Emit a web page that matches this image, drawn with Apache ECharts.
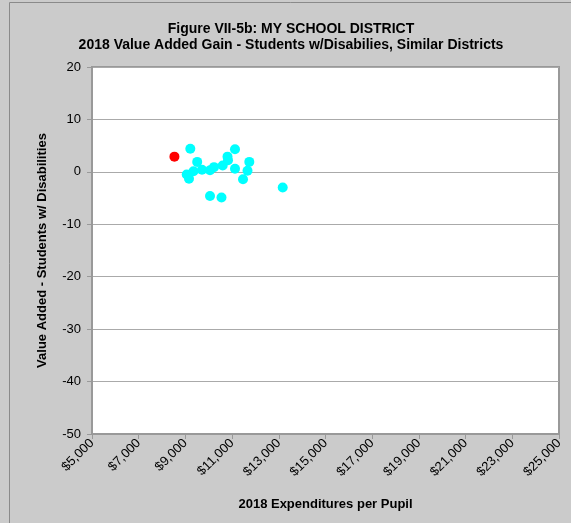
<!DOCTYPE html>
<html>
<head>
<meta charset="utf-8">
<script src="https://cdn.jsdelivr.net/npm/echarts@6/dist/echarts.min.js"></script>
<style>html,body{margin:0;padding:0;background:#cbcbcb;}#c{width:571px;height:523px;}</style>
</head>
<body>
<div id="c"></div>
<script>
const titleLines = ["Figure VII-5b: MY SCHOOL DISTRICT", "2018 Value Added Gain - Students w/Disabilies, Similar Districts"];
const xAxisName = "2018 Expenditures per Pupil";
const yAxisName = "Value Added - Students w/ Disabilities";
const myDistrictX = [8530];
const myDistrictY = [2.9];
const similarX = [9210, 9505, 9056, 9154, 9347, 9711, 10054, 10225, 10597, 10825, 10803, 11124, 11124, 11737, 11660, 11467, 10054, 10546, 13167];
const similarY = [4.4, 1.9, -0.5, -1.3, 0.1, 0.4, 0.3, 0.9, 1.2, 2.2, 2.9, 4.3, 0.6, 1.9, 0.2, -1.4, -4.6, -4.9, -3.0];
const xMin = 5000, xMax = 25000, xStep = 2000;
const yMin = -50, yMax = 20, yStep = 10;

const font = '"Liberation Sans", Arial, sans-serif';
const chart = echarts.init(document.getElementById('c'));
chart.setOption({
  backgroundColor: '#cbcbcb',
  animation: false,
  graphic: [{
    type: 'rect', shape: {x: 9.5, y: 2.5, width: 600, height: 600},
    style: {fill: 'none', stroke: '#8a8a8a', lineWidth: 1}, z: -1
  }],
  title: {
    text: titleLines.join('\n'),
    left: 286, top: 16, textAlign: 'center',
    textStyle: {fontFamily: font, fontSize: 14, fontWeight: 'bold', color: '#000', lineHeight: 16}
  },
  grid: {left: 92, right: 12, top: 67, bottom: 89, show: true, backgroundColor: '#fff', borderColor: '#999', borderWidth: 2},
  xAxis: {
    type: 'value', min: xMin, max: xMax, interval: xStep,
    name: xAxisName, nameLocation: 'middle', nameGap: 64,
    nameTextStyle: {fontFamily: font, fontSize: 13, fontWeight: 'bold', color: '#000'},
    axisLine: {show: true, onZero: false, lineStyle: {color: '#999', width: 2}},
    axisTick: {show: true, length: 5, lineStyle: {color: '#999'}},
    splitLine: {show: false},
    axisLabel: {
      rotate: 45, fontFamily: font, fontSize: 13, color: '#000', margin: 7,
      formatter: v => '$' + v.toLocaleString('en-US')
    }
  },
  yAxis: {
    type: 'value', min: yMin, max: yMax, interval: yStep,
    name: yAxisName, nameLocation: 'middle', nameGap: 43,
    nameTextStyle: {fontFamily: font, fontSize: 13, fontWeight: 'bold', color: '#000'},
    axisLine: {show: true, lineStyle: {color: '#999', width: 2}},
    axisTick: {show: true, length: 5, lineStyle: {color: '#999'}},
    splitLine: {show: true, lineStyle: {color: '#aaa', width: 1}},
    axisLabel: {fontFamily: font, fontSize: 13, color: '#000', margin: 11}
  },
  series: [
    {
      type: 'scatter', symbolSize: 10,
      itemStyle: {color: '#00ffff', opacity: 1},
      data: similarX.map((x, i) => [x, similarY[i]])
    },
    {
      type: 'scatter', symbolSize: 10,
      itemStyle: {color: '#ff0000', opacity: 1},
      data: myDistrictX.map((x, i) => [x, myDistrictY[i]])
    }
  ]
});
</script>
</body>
</html>
